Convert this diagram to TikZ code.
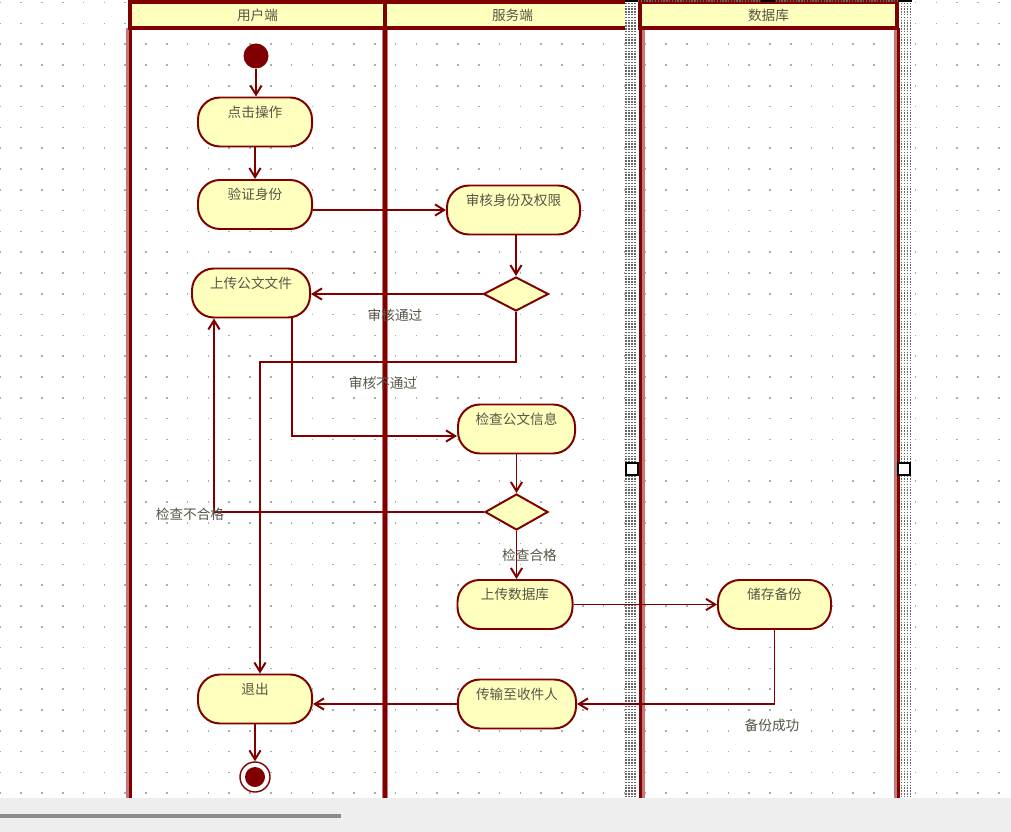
\documentclass[tikz,border=0pt]{standalone}
\usepackage{fontspec}
\setmainfont{Noto Sans CJK SC}
\usepackage{tikz}
\usetikzlibrary{arrows.meta,positioning,shapes.geometric}
\definecolor{lanered}{RGB}{128,0,0}
\definecolor{laneedge}{RGB}{196,120,120}
\definecolor{actfill}{RGB}{255,255,190}
\definecolor{txtgray}{RGB}{85,85,72}
\definecolor{barbg}{RGB}{238,238,238}
\definecolor{griddot}{RGB}{172,172,172}

\begin{document}
\begin{tikzpicture}[
      x=0.025cm, y=-0.025cm, >={Straight Barb[length=6.5pt,width=8pt]},
      font=\fontsize{9.7}{11}\selectfont, text=txtgray,
      act/.style={draw=lanered, fill=actfill, line width=1.4pt, rounded corners=0.55cm,
                  minimum height=1.225cm, inner xsep=2pt, inner ysep=4pt,
                  text height=10pt, text depth=16.7pt},
      dec/.style={diamond, draw=lanered, fill=actfill, line width=1.4pt, inner sep=0pt},
      initial/.style={circle, fill=lanered, minimum size=0.625cm, inner sep=0pt},
      final/.style={circle, draw=lanered, line width=1pt, minimum size=0.75cm, inner sep=0pt,
                    path picture={\fill[lanered] (path picture bounding box.center) circle[radius=0.25cm];}},
      flow/.style={draw=lanered, line width=1.4pt, ->},
      lbl/.style={inner sep=1pt},
      lanehead/.style={draw=lanered, fill=actfill, line width=2.8pt, minimum height=0.65cm,
                       inner sep=0pt},
      lanerule/.style={draw=lanered, line width=2.2pt},
      laneshade/.style={draw=laneedge, line width=4.2pt},
      selhatch/.style={draw=gray!80!black, line width=1pt, dash pattern=on 1pt off 1pt},
    ]
    \useasboundingbox[fill=white] (0,0) rectangle (1011,832);

    % canvas grid
    \foreach \gx in {0,...,48}
      \foreach \gy in {0,...,38}
        \fill[griddot] ({20.8*\gx-0.4},{20.8*\gy+1.9}) rectangle ++(1.6,1.6);

    % swimlane rules
    \draw[laneshade] (128.5,28) -- (128.5,798);
    \draw[lanerule] (130.5,28) -- (130.5,798);
    \draw[laneshade] (385,28) -- (385,798);
    \draw[lanerule, line width=2.6pt] (385,28) -- (385,798);
    \draw[laneshade] (642,28) -- (642,798);
    \draw[lanerule, line width=2.8pt] (640.5,28) -- (640.5,798);
    \draw[laneshade] (896.5,28) -- (896.5,798);
    \draw[lanerule] (898.5,28) -- (898.5,798);

    % swimlane headers
    \node[lanehead, minimum width=6.375cm] (huser) at (257.5,15) {用户端};
    \node[lanehead, minimum width=6.375cm] (hserver) at (512.5,15) {服务端};
    \node[lanehead, minimum width=6.425cm] (hdb) at (768.5,15) {数据库};

    % selection frame of the database lane
    \fill[white] (625,0) rectangle (638,798);
    \fill[white] (900,0) rectangle (912,798);
    \foreach \hx in {626,629,632,635,901.5,904.5,907.5,910.5}
      \draw[selhatch] (\hx,0) -- (\hx,798);
    \draw[selhatch] (638,1) -- (897,1);
    \fill[black] (625,0) rectangle (638,2.5);
    \fill[black] (761,0) rectangle (775,2.5);
    \fill[black] (898,0) rectangle (912,2.5);
    \draw[black, fill=white, line width=1.4pt] (626,463) rectangle (638,475);
    \draw[black, fill=white, line width=1.4pt] (898,463) rectangle (910,475);

    % activities
    \node[initial] (start) at (256,56) {};
    \node[act, minimum width=2.85cm] (click) at (255,122) {点击操作};
    \node[act, minimum width=2.85cm] (verify) at (255,204.5) {验证身份};
    \node[act, minimum width=3.325cm] (audit) at (513.5,210) {审核身份及权限};
    \node[dec, minimum width=1.625cm, minimum height=0.85cm] (authok) at (516,294) {};
    \node[act, minimum width=2.95cm] (upload) at (251,293) {上传公文文件};
    \node[act, minimum width=2.925cm] (check) at (516.5,429) {检查公文信息};
    \node[dec, minimum width=1.575cm, minimum height=0.9cm] (checkok) at (516.5,512) {};
    \node[act, minimum width=2.875cm] (todb) at (515,604.5) {上传数据库};
    \node[act, minimum width=2.825cm] (backup) at (774.5,604.5) {储存备份};
    \node[act, minimum width=2.95cm] (send) at (517,704) {传输至收件人};
    \node[act, minimum width=2.85cm] (quit) at (255,699) {退出};
    \node[final] (stop) at (255,777) {};

    % flows
    \draw[flow] (start) -- (start |- click.north);
    \draw[flow] (click) -- (verify);
    \draw[flow] (verify.east |- audit) -- (audit);
    \draw[flow] (audit.south -| authok) -- (authok);
    \draw[flow] (authok) -- (authok -| upload.east);
    \node[lbl] (passed) at (395,315) {审核通过};
    \coordinate (nogo) at (260,362);
    \draw[flow] (authok) |- (nogo) -- (nogo |- quit.north);
    \node[lbl] (failed) at (383,383) {审核不通过};
    \draw[flow] ([xshift=1.025cm]upload.south) |- ([yshift=-0.175cm]check.west);
    \draw[flow] (check) -- (checkok);
    \draw[flow] (checkok) -| ([xshift=-0.925cm]upload.south);
    \node[lbl] (recheck) at (190,514) {检查不合格};
    \draw[flow] (checkok.south) -- (checkok.south |- todb.north);
    \node[lbl] (checkpass) at (529.5,555) {检查合格};
    \draw[flow] (todb) -- (backup);
    \draw[flow] (backup) |- (send);
    \node[lbl] (backed) at (772,725) {备份成功};
    \draw[flow] (send) -- (send -| quit.east);
    \draw[flow] (quit) -- (stop);

    % window bottom bar
    \fill[barbg] (0,798) rectangle (1011,832);
    \fill[gray!90] (0,814) rectangle (341,818);
  \end{tikzpicture}
\end{document}
